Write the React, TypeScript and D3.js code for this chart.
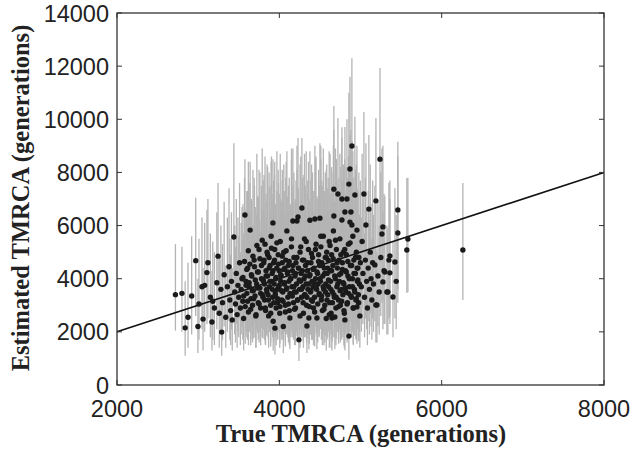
import React from 'react';
import * as d3 from 'd3';

// [true TMRCA, estimated TMRCA, lower bound, upper bound] in generations
const points: number[][] = [
  [2720, 3400, 2050, 5300], [2800, 3450, 2000, 5200], [2840, 2150, 1100, 3900], [2875, 2550, 1400, 4600],
  [2920, 3350, 1900, 5600], [2970, 4680, 2600, 7050], [2997, 2200, 1200, 4000], [3010, 3050, 1700, 5500],
  [3047, 3700, 2100, 6300], [3060, 2480, 1300, 4400], [3080, 3750, 2000, 6100], [3108, 4230, 2300, 6600],
  [3120, 4600, 2500, 7000], [3150, 3300, 1800, 5700], [3170, 2370, 1300, 4300], [3180, 3150, 1700, 5400],
  [3200, 2900, 1500, 5000], [3230, 3850, 2100, 6500], [3245, 4850, 2700, 7600], [3260, 2700, 1400, 4800],
  [3280, 3600, 1900, 6000], [3290, 1990, 1100, 3700], [3300, 3100, 1700, 5300], [3320, 4150, 2200, 6900],
  [3340, 2550, 1400, 4500],
  [3360, 3700, 2000, 6300], [3380, 4450, 2400, 7400], [3390, 3200, 1700, 5500], [3400, 2800, 1500, 4900],
  [3410, 3900, 2100, 6500], [3420, 2450, 1300, 4400], [3440, 5570, 3000, 9100], [3450, 3500, 1900, 6000],
  [3460, 3050, 1600, 5200], [3470, 4200, 2300, 7000], [3480, 2650, 1400, 4600], [3490, 3750, 2000, 6300],
  [3500, 3300, 1800, 5600], [3510, 4600, 2500, 7600], [3520, 2900, 1500, 5000], [3530, 3600, 1900, 6100],
  [3540, 4000, 2200, 6700], [3550, 3150, 1700, 5400], [3560, 2500, 1300, 4400], [3576, 6400, 3500, 8500],
  [3590, 3900, 2100, 6600], [3600, 3450, 1800, 5900], [3610, 4400, 2400, 7300], [3620, 2750, 1500, 4800],
  [3630, 3700, 2000, 6200], [3640, 5830, 3200, 8400], [3650, 3250, 1700, 5600], [3660, 4100, 2200, 6900],
  [3670, 3000, 1600, 5200], [3680, 3550, 1900, 6000], [3690, 4700, 2600, 7800], [3700, 3350, 1800, 5700],
  [3710, 2600, 1400, 4600], [3720, 3800, 2100, 6400], [3730, 4250, 2300, 7100], [3740, 3100, 1700, 5400],
  [3750, 5100, 2800, 8100], [3760, 3650, 2000, 6200], [3770, 2900, 1500, 5000], [3780, 4500, 2400, 7500],
  [3790, 3400, 1800, 5800], [3800, 3950, 2100, 6600],
  [3805, 3900, 2100, 6700], [3812, 4700, 2500, 7900], [3818, 3200, 1700, 5500], [3824, 5300, 2900, 8600],
  [3830, 2800, 1500, 4900], [3836, 4300, 2300, 7200], [3843, 3600, 1900, 6200], [3849, 5000, 2700, 8300],
  [3855, 4100, 2200, 6900], [3861, 3400, 1800, 5800], [3868, 2600, 1400, 4600], [3874, 4800, 2600, 8000],
  [3880, 3700, 2000, 6300], [3886, 4500, 2400, 7500], [3893, 3000, 1600, 5200], [3899, 5600, 3100, 8400],
  [3905, 3900, 2100, 6600], [3911, 4200, 2300, 7000], [3918, 3300, 1800, 5700], [3921, 6100, 3300, 8500],
  [3924, 2400, 1300, 4300], [3930, 4600, 2500, 7700], [3936, 3800, 2000, 6400], [3943, 5100, 2800, 8400],
  [3946, 2140, 1150, 3900], [3949, 3500, 1900, 6000], [3955, 4000, 2200, 6800], [3961, 2900, 1500, 5100],
  [3968, 4400, 2400, 7300], [3974, 3600, 1900, 6200], [3980, 3100, 1700, 5400], [3986, 4900, 2600, 8100],
  [3993, 3700, 2000, 6300], [3999, 4300, 2300, 7200], [4005, 2700, 1400, 4800], [4011, 5400, 2900, 8700],
  [4018, 3900, 2100, 6600], [4024, 4100, 2200, 6900], [4030, 3200, 1700, 5500], [4036, 4600, 2500, 7700],
  [4043, 3500, 1900, 6000], [4049, 2200, 1200, 4000], [4055, 5000, 2700, 8300], [4061, 3800, 2000, 6400],
  [4068, 4400, 2400, 7300], [4074, 3000, 1600, 5200], [4080, 4700, 2500, 7800], [4086, 3600, 1900, 6200],
  [4093, 5800, 3100, 8800], [4099, 4200, 2300, 7000], [4105, 3300, 1800, 5700], [4111, 4500, 2400, 7500],
  [4118, 3900, 2100, 6600], [4124, 2800, 1500, 4900], [4130, 2520, 1350, 4500], [4136, 4000, 2200, 6800],
  [4143, 3400, 1800, 5800], [4149, 5200, 2800, 8500], [4155, 3700, 2000, 6300], [4161, 4300, 2300, 7200],
  [4167, 6170, 3300, 8900], [4174, 3100, 1700, 5400], [4180, 4800, 2600, 8000], [4186, 3500, 1900, 6000],
  [4193, 4100, 2200, 6900], [4199, 2900, 1500, 5100], [4205, 4600, 2500, 7700], [4211, 3800, 2000, 6400],
  [4217, 6170, 3300, 9000], [4224, 3200, 1700, 5500], [4230, 6320, 3400, 9300], [4236, 4400, 2400, 7300],
  [4241, 1700, 900, 3300], [4249, 3600, 1900, 6200], [4255, 5000, 2700, 8300], [4261, 3900, 2100, 6600],
  [4268, 4200, 2300, 7000], [4274, 3300, 1800, 5700], [4278, 6660, 3600, 9300], [4285, 4700, 2500, 7800],
  [4291, 3700, 2000, 6300], [4297, 2700, 1400, 4800], [4304, 4000, 2200, 6800], [4310, 5500, 3000, 8700],
  [4316, 3400, 1800, 5800], [4322, 4500, 2400, 7500], [4329, 3800, 2000, 6400], [4335, 3000, 1600, 5200],
  [4340, 2220, 1200, 4000], [4347, 4300, 2300, 7200], [4353, 3600, 1900, 6200], [4359, 5100, 2800, 8400],
  [4364, 2520, 1350, 4500], [4371, 4100, 2200, 6900], [4377, 6200, 3300, 8800], [4384, 3500, 1900, 6000],
  [4390, 4600, 2500, 7700], [4396, 3200, 1700, 5500], [4403, 3900, 2100, 6600], [4409, 4800, 2600, 8000],
  [4415, 3700, 2000, 6300], [4421, 2900, 1500, 5100], [4428, 4400, 2400, 7300], [4434, 3300, 1800, 5700],
  [4438, 6250, 3400, 9000], [4446, 4000, 2200, 6800], [4452, 5300, 2900, 8600], [4459, 3600, 1900, 6200],
  [4463, 2520, 1350, 4400], [4471, 4200, 2300, 7000], [4477, 3800, 2000, 6400], [4484, 4900, 2600, 8100],
  [4490, 3400, 1800, 5800], [4496, 4500, 2400, 7500], [4500, 6280, 3400, 9100],
  [4506, 3900, 2100, 6600], [4512, 5200, 2800, 8500], [4518, 3200, 1700, 5500], [4524, 4600, 2500, 7700],
  [4530, 2800, 1500, 4900], [4536, 4100, 2200, 6900], [4542, 5600, 3000, 8900], [4548, 3600, 1900, 6200],
  [4554, 4400, 2400, 7300], [4560, 3000, 1600, 5200], [4566, 4800, 2600, 8000], [4572, 3800, 2000, 6400],
  [4578, 2500, 1300, 4500], [4584, 5000, 2700, 8300], [4590, 4200, 2300, 7000], [4596, 3400, 1800, 5800],
  [4602, 4700, 2500, 7800], [4608, 3700, 2000, 6300], [4614, 5400, 2900, 8800], [4620, 3100, 1700, 5400],
  [4626, 4300, 2300, 7200], [4632, 3900, 2100, 6600], [4638, 2700, 1400, 4800], [4644, 4900, 2600, 8200],
  [4648, 2520, 1300, 4400], [4654, 3500, 1900, 6000], [4660, 4500, 2400, 7500], [4666, 5800, 3100, 9000],
  [4672, 7370, 4000, 10500], [4672, 6360, 3400, 9600], [4678, 3300, 1800, 5700], [4684, 2560, 1350, 4500],
  [4690, 4000, 2200, 6800], [4697, 2900, 1500, 5000], [4703, 5100, 2800, 8500], [4709, 3700, 2000, 6300],
  [4715, 4400, 2400, 7300], [4722, 7190, 3900, 10050], [4728, 3200, 1700, 5500], [4734, 4700, 2500, 7800],
  [4740, 3900, 2100, 6600], [4746, 5500, 3000, 8700], [4752, 3000, 1600, 5200], [4758, 4200, 2300, 7000],
  [4765, 3600, 1900, 6200], [4771, 7000, 3800, 9700], [4771, 6210, 3400, 9300], [4777, 4600, 2500, 7700],
  [4783, 3400, 1800, 5800], [4789, 5000, 2700, 8300], [4795, 3800, 2000, 6400], [4801, 2700, 1400, 4800],
  [4808, 6510, 3500, 9710], [4808, 2450, 1300, 4300], [4814, 4300, 2300, 7200], [4820, 3500, 1900, 6000],
  [4826, 4900, 2600, 8200], [4833, 7000, 3800, 10000], [4839, 3100, 1700, 5400], [4845, 4100, 2200, 6900],
  [4851, 5300, 2900, 8600], [4857, 7560, 4100, 11000], [4857, 1840, 950, 3300], [4863, 3700, 2000, 6300],
  [4870, 8130, 4400, 11600], [4870, 6130, 3300, 9400], [4876, 4500, 2400, 7500], [4882, 6510, 3500, 9600],
  [4888, 3300, 1800, 5700], [4894, 8995, 4900, 12300], [4894, 6020, 3200, 9200], [4900, 4000, 2200, 6800],
  [4906, 5600, 3000, 8800], [4912, 2900, 1500, 5000], [4918, 4700, 2500, 7800], [4924, 3600, 1900, 6200],
  [4931, 7150, 3900, 10100], [4937, 4200, 2300, 7000], [4943, 3200, 1700, 5500], [4949, 5000, 2700, 8300],
  [4956, 5830, 3100, 9000], [4956, 2940, 1550, 5000], [4962, 3900, 2100, 6600], [4968, 4400, 2400, 7300],
  [4974, 3400, 1800, 5800], [4980, 4800, 2600, 8000], [4986, 3800, 2000, 6400], [4992, 2600, 1400, 4600],
  [4998, 4600, 2500, 7700],
  [5010, 3700, 2000, 6300], [5020, 5400, 2900, 8700], [5030, 4200, 2300, 7000], [5042, 7190, 3900, 10270],
  [5050, 3300, 1800, 5700], [5060, 4700, 2500, 7800], [5067, 6020, 3200, 9100], [5075, 3900, 2100, 6600],
  [5085, 2900, 1500, 5000], [5095, 4400, 2400, 7300], [5103, 6620, 3600, 9410], [5110, 3600, 1900, 6200],
  [5120, 5000, 2700, 8300], [5130, 4000, 2200, 6800], [5140, 3200, 1700, 5500], [5150, 4600, 2500, 7700],
  [5160, 3800, 2000, 6400], [5177, 4520, 2400, 7500], [5190, 6930, 3700, 10050], [5190, 3010, 1600, 5100],
  [5202, 3010, 1600, 5000], [5215, 4100, 2200, 6900], [5230, 3500, 1900, 6000], [5240, 8500, 4600, 11930],
  [5250, 4800, 2600, 8000], [5264, 5680, 3100, 8900], [5276, 5950, 3200, 9000], [5276, 3880, 2100, 6500],
  [5290, 4300, 2300, 7200], [5300, 4250, 2300, 7100], [5325, 3500, 1900, 6000], [5337, 3500, 1900, 5900],
  [5350, 4700, 2500, 7600], [5362, 4860, 2600, 7700], [5362, 4220, 2300, 7000], [5400, 3310, 1800, 5400],
  [5424, 4630, 2500, 7400], [5440, 3900, 2100, 6400], [5460, 6590, 3600, 9150], [5460, 5720, 3100, 8600],
  [5571, 5080, 3460, 7790], [5584, 5490, 3500, 7800],
  [6261, 5080, 3200, 7600],
  // dense core of the cloud
  [3552, 4050, 2150, 6800], [3561, 3350, 1800, 5700], [3571, 4650, 2500, 7800], [3580, 2950, 1550, 5000],
  [3590, 3750, 2000, 6300], [3599, 4350, 2300, 7300], [3609, 3150, 1700, 5300], [3618, 5050, 2700, 8400],
  [3628, 3850, 2050, 6500], [3637, 4550, 2400, 7600], [3647, 2850, 1500, 4800], [3656, 4150, 2200, 7000],
  [3666, 3550, 1900, 6000], [3675, 4850, 2600, 8100], [3685, 3250, 1750, 5500], [3694, 4450, 2350, 7500],
  [3704, 3950, 2100, 6700], [3713, 2650, 1400, 4500], [3723, 5250, 2800, 8700], [3732, 3650, 1950, 6200],
  [3742, 4250, 2250, 7100], [3751, 3050, 1600, 5200], [3761, 4750, 2550, 8000], [3770, 3450, 1850, 5800],
  [3780, 4000, 2150, 6700], [3789, 5450, 2900, 8900], [3799, 3300, 1750, 5600], [3808, 4600, 2450, 7700],
  [3818, 3800, 2000, 6400], [3827, 2900, 1550, 4900], [3837, 4100, 2200, 6900], [3846, 3500, 1850, 5900],
  [3856, 4900, 2600, 8200], [3865, 3200, 1700, 5400], [3875, 4400, 2350, 7400], [3884, 3900, 2100, 6600],
  [3894, 2700, 1450, 4600], [3903, 5150, 2750, 8600], [3913, 3600, 1900, 6100], [3922, 4300, 2300, 7200],
  [3932, 3100, 1650, 5200], [3941, 4700, 2500, 7900], [3951, 3400, 1800, 5700], [3960, 4050, 2150, 6800],
  [3970, 5350, 2850, 8800], [3979, 3250, 1750, 5500], [3989, 4550, 2400, 7600], [3998, 3750, 2000, 6300],
  [4008, 2950, 1550, 5000], [4017, 4150, 2200, 7000], [4027, 3550, 1900, 6000], [4036, 4850, 2600, 8100],
  [4046, 3150, 1700, 5300], [4055, 4350, 2300, 7300], [4065, 3850, 2050, 6500], [4074, 2750, 1450, 4600],
  [4084, 5050, 2700, 8400], [4093, 3650, 1950, 6200], [4103, 4250, 2250, 7100], [4112, 3050, 1600, 5200],
  [4122, 4650, 2500, 7800], [4131, 3450, 1850, 5800], [4141, 4000, 2150, 6700], [4150, 5500, 2950, 8900],
  [4160, 3350, 1800, 5700], [4169, 4500, 2400, 7500], [4179, 3700, 2000, 6200], [4188, 2850, 1500, 4800],
  [4198, 4200, 2250, 7000], [4207, 3500, 1850, 5900], [4217, 4800, 2550, 8100], [4226, 3200, 1700, 5400],
  [4236, 4400, 2350, 7400], [4245, 3950, 2100, 6600], [4255, 2600, 1400, 4400], [4264, 5200, 2800, 8600],
  [4274, 3600, 1900, 6100], [4283, 4300, 2300, 7200], [4293, 3100, 1650, 5200], [4302, 4700, 2500, 7900],
  [4312, 3400, 1800, 5700], [4321, 4100, 2200, 6900], [4331, 5400, 2900, 8800], [4340, 3300, 1750, 5600],
  [4350, 4600, 2450, 7700], [4359, 3800, 2000, 6400], [4369, 2950, 1550, 5000], [4378, 4150, 2200, 7000],
  [4388, 3550, 1900, 6000], [4397, 4950, 2650, 8300], [4407, 3150, 1700, 5300], [4416, 4350, 2300, 7300],
  [4426, 3850, 2050, 6500], [4435, 2750, 1450, 4600], [4445, 5100, 2750, 8500], [4454, 3650, 1950, 6200],
  [4464, 4250, 2250, 7100], [4473, 3050, 1600, 5200], [4483, 4650, 2500, 7800], [4492, 3450, 1850, 5800],
  [4502, 4000, 2150, 6700], [4511, 5600, 3000, 9000], [4521, 3350, 1800, 5700], [4530, 4500, 2400, 7500],
  [4540, 3700, 2000, 6200], [4549, 2850, 1500, 4800], [4559, 4200, 2250, 7000], [4568, 3500, 1850, 5900],
  [4578, 4800, 2550, 8100], [4587, 3200, 1700, 5400], [4597, 4400, 2350, 7400], [4606, 3950, 2100, 6600],
  [4616, 2650, 1400, 4500], [4625, 5250, 2800, 8700], [4635, 3600, 1900, 6100], [4644, 4300, 2300, 7200],
  [4654, 3100, 1650, 5200], [4663, 4750, 2550, 8000], [4673, 3400, 1800, 5700], [4682, 4100, 2200, 6900],
  [4692, 5450, 2900, 8900], [4701, 3300, 1750, 5600], [4711, 4600, 2450, 7700], [4720, 3800, 2000, 6400],
  [4730, 2950, 1550, 5000], [4739, 4150, 2200, 7000], [4749, 3550, 1900, 6000], [4758, 4900, 2600, 8200],
  [4768, 3150, 1700, 5300], [4777, 4350, 2300, 7300], [4787, 3850, 2050, 6500], [4796, 2800, 1500, 4700],
  [4806, 5100, 2750, 8500], [4815, 3650, 1950, 6200], [4825, 4250, 2250, 7100], [4834, 3050, 1600, 5200],
  [4844, 4650, 2500, 7800], [4853, 3450, 1850, 5800], [4863, 4000, 2150, 6700], [4872, 5350, 2850, 8800],
  [4882, 3350, 1800, 5700], [4891, 4500, 2400, 7500], [4901, 3700, 2000, 6200], [4910, 2900, 1550, 4900],
  [4920, 4200, 2250, 7000], [4929, 3500, 1850, 5900], [4939, 4800, 2550, 8100], [4948, 3250, 1750, 5500],
  [4958, 4400, 2350, 7400], [4967, 3950, 2100, 6600], [4977, 3100, 1650, 5200],
];

const xTicks = [2000, 4000, 6000, 8000];
const yTicks = [0, 2000, 4000, 6000, 8000, 10000, 12000, 14000];
const refLine = [2000, 8000]; // y = x

const W = 633;
const H = 453;
const left = 117, right = 604, top = 13, bottom = 385;

export default function App() {
  const x = d3.scaleLinear().domain([2000, 8000]).range([left, right]);
  const y = d3.scaleLinear().domain([0, 14000]).range([bottom, top]);
  const tickFont = '"Liberation Sans", Arial, sans-serif';
  const titleFont = '"Liberation Serif", "Times New Roman", serif';

  return (
    <svg width={W} height={H} style={{ position: 'absolute', left: 0, top: 0, background: '#fff' }}>
      {/* error bars */}
      <g stroke="#b4b4b4" strokeWidth={1.3}>
        {points.map((d, i) => (
          <line key={'e' + i} x1={x(d[0])} x2={x(d[0])} y1={y(d[2])} y2={y(d[3])} />
        ))}
      </g>
      {/* y = x reference */}
      <line x1={x(refLine[0])} y1={y(refLine[0])} x2={x(refLine[1])} y2={y(refLine[1])} stroke="#111" strokeWidth={1.6} />
      {/* estimates */}
      <g fill="#1a1a1a">
        {points.map((d, i) => (
          <circle key={'p' + i} cx={x(d[0])} cy={y(d[1])} r={2.7} />
        ))}
      </g>
      {/* frame */}
      <rect x={left} y={top} width={right - left} height={bottom - top} fill="none" stroke="#333" strokeWidth={1.3} />
      {xTicks.map(t => (
        <g key={'x' + t}>
          <line x1={x(t)} x2={x(t)} y1={bottom} y2={bottom - 5} stroke="#333" />
          <line x1={x(t)} x2={x(t)} y1={top} y2={top + 5} stroke="#333" />
          <text x={x(t)} y={bottom + 32} textAnchor="middle" fontFamily={tickFont} fontSize={23.5} fill="#222">{t}</text>
        </g>
      ))}
      {yTicks.map(t => (
        <g key={'y' + t}>
          <line x1={left} x2={left + 5} y1={y(t)} y2={y(t)} stroke="#333" />
          <line x1={right} x2={right - 5} y1={y(t)} y2={y(t)} stroke="#333" />
          <text x={left - 8} y={y(t) + 8.5} textAnchor="end" fontFamily={tickFont} fontSize={23.5} fill="#222">{t}</text>
        </g>
      ))}
      <text x={361} y={442} textAnchor="middle" fontFamily={titleFont} fontWeight="bold" fontSize={24.5} fill="#222">
        True TMRCA (generations)
      </text>
      <text transform={`translate(29,198) rotate(-90)`} textAnchor="middle" fontFamily={titleFont} fontWeight="bold" fontSize={24.5} fill="#222">
        Estimated TMRCA (generations)
      </text>
    </svg>
  );
}
